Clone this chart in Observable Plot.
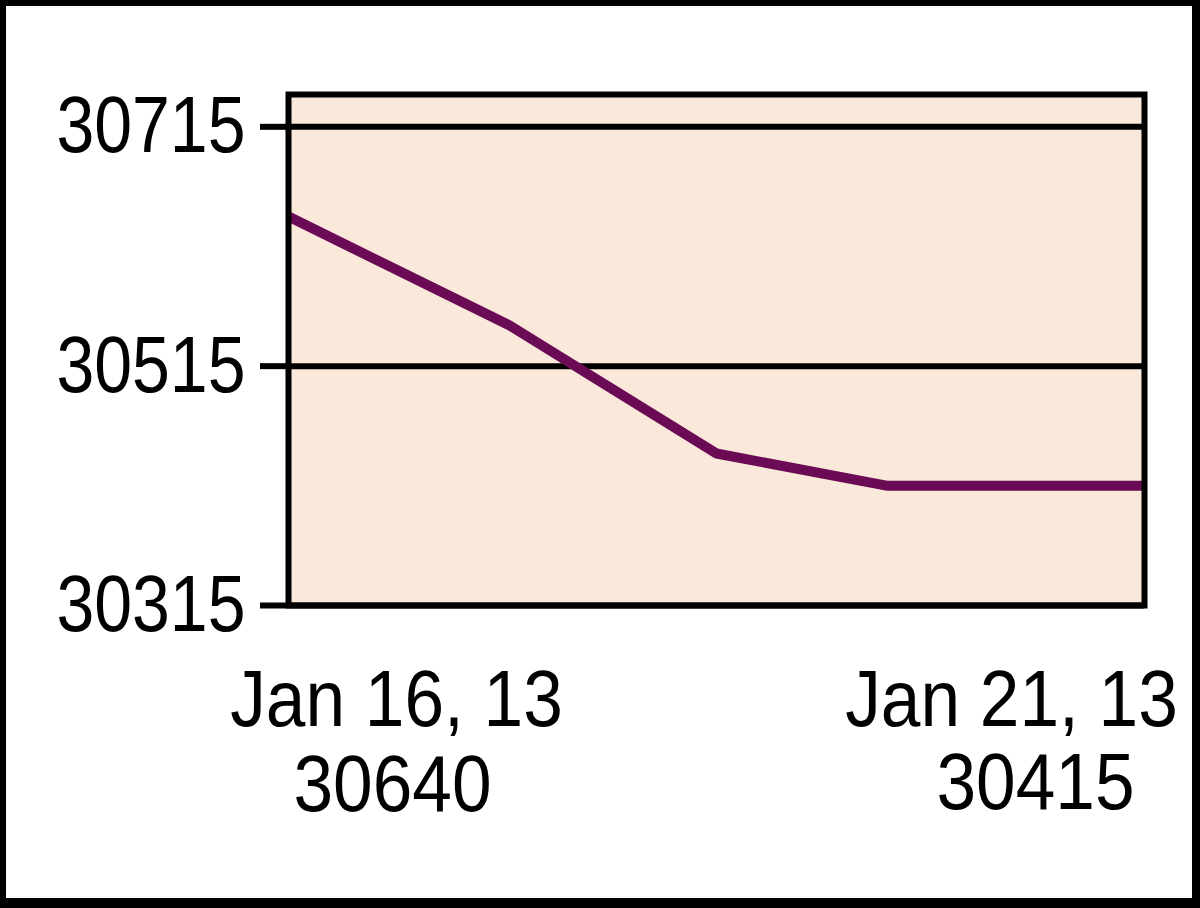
<!DOCTYPE html>
<html>
<head>
<meta charset="utf-8">
<script src="https://cdn.jsdelivr.net/npm/d3@7"></script>
<script src="https://cdn.jsdelivr.net/npm/@observablehq/plot@0.6"></script>
<style>
  html, body { margin: 0; padding: 0; background: white; }
  #chart {
    width: 1200px; height: 908px; box-sizing: border-box;
    border-style: solid; border-color: black;
    border-width: 6px 8px 10px 6px;
    background: white; overflow: hidden;
  }
  #chart svg { display: block; }
</style>
</head>
<body>
<div id="chart"></div>
<script>
// Data
const dates = ["2013-01-16T00:00Z", "2013-01-16T16:00Z", "2013-01-17T07:00Z", "2013-01-18T12:00Z", "2013-01-19T12:00Z", "2013-01-21T00:00Z"];
const values = [30640, 30593, 30549, 30442, 30415, 30415];
const yTicks = [30315, 30515, 30715];
const yDomain = [30315, 30742];

const data = dates.map((d, i) => ({date: new Date(d), value: values[i]}));
const first = data[0];
const last = data[data.length - 1];
const fmtDate = d => d3.utcFormat("%b %-d, %y")(d);

const FONT = "'Liberation Sans', Arial, sans-serif";

const chart = Plot.plot({
  width: 1186,
  height: 892,
  marginLeft: 282,
  marginRight: 48,
  marginTop: 88,
  marginBottom: 293,
  style: {fontFamily: FONT, fontSize: "80px", color: "black", background: "white", overflow: "visible"},
  x: {type: "utc", domain: [first.date, last.date], axis: null},
  y: {domain: yDomain, axis: null},
  marks: [
    Plot.frame({fill: "#FAE8DA", stroke: null}),
    Plot.ruleY(yTicks, {stroke: "black", strokeWidth: 6}),
    Plot.line(data, {x: "date", y: "value", stroke: "#6b0a55", strokeWidth: 10, strokeLinecap: "butt", strokeLinejoin: "miter"}),
    Plot.frame({stroke: "black", strokeWidth: 6}),
    Plot.axisY({ticks: yTicks, tickSize: 28, tickPadding: 15, tickFormat: d => String(d), strokeWidth: 6, fontSize: 80, label: null, anchor: "left", className: "yax"}),
    // x-axis labels: date and value at first and last point
    Plot.text([first], {x: "date", text: d => fmtDate(d.date), frameAnchor: "bottom", lineAnchor: "bottom", dx: 108, dy: 120, fontSize: 80, fill: "black", className: "xlab"}),
    Plot.text([first], {x: "date", text: d => String(d.value), frameAnchor: "bottom", lineAnchor: "bottom", dx: 104, dy: 205, fontSize: 80, fill: "black", className: "xlab"}),
    Plot.text([last], {x: "date", text: d => fmtDate(d.date), frameAnchor: "bottom", lineAnchor: "bottom", dx: -133, dy: 120, fontSize: 80, fill: "black", className: "xlab"}),
    Plot.text([last], {x: "date", text: d => String(d.value), frameAnchor: "bottom", lineAnchor: "bottom", dx: -109, dy: 203, fontSize: 80, fill: "black", className: "xlab"})
  ]
});
document.getElementById("chart").appendChild(chart);

// Condense text horizontally (around each text's anchor) to mimic the narrow bitmap font of the original
function condense(sel, k) {
  d3.select(chart).selectAll(sel).each(function() {
    const t = this.getAttribute("transform") || "";
    this.setAttribute("transform", (t + ` scale(${k},1)`).trim());
  });
}
condense("g.yax text", 0.85);
condense("g.xlab text", 0.89);
</script>
</body>
</html>
